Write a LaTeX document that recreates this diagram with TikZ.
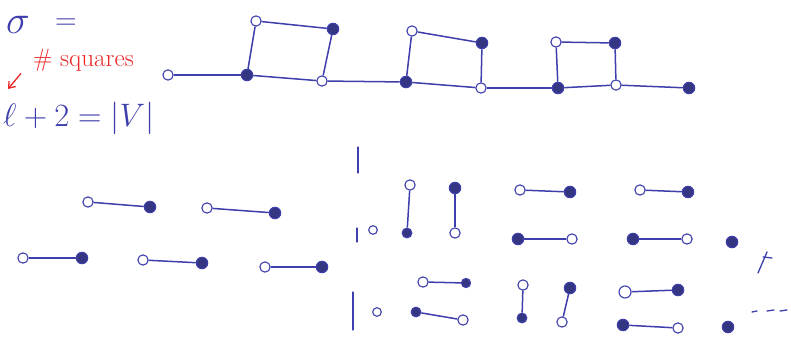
\documentclass[tikz,border=0pt]{standalone}
\usepackage{xcolor}
\usepackage{graphicx}
\usepackage{amsmath,amssymb}
\usepackage{tikz}
\usetikzlibrary{arrows.meta}
\definecolor{Ink}{RGB}{62,62,172}
\definecolor{DarkInk}{RGB}{52,54,130}
\definecolor{RedInk}{RGB}{236,38,38}

\begin{document}
\begin{tikzpicture}[
 x=0.35mm, y=-0.35mm,
 opendot/.style={draw=Ink, circle, line width=1.1pt, minimum size=3.6mm, inner sep=0pt, fill=white},
 fulldot/.style={draw=Ink, circle, line width=1.1pt, minimum size=4.0mm, inner sep=0pt, fill=DarkInk},
 link/.style={draw=Ink, line width=1.5pt},
 scribble/.style={draw=Ink, line width=1.3pt, line cap=round},
 hand/.style={text=Ink, inner sep=0pt, font=\Huge},
 redarrow/.style={-{Straight Barb[length=2mm,width=3mm]}, draw=RedInk, line width=1.3pt},
 font=\small
]
\useasboundingbox (0,0) rectangle (791,349);

% left side text
\node[hand] (sig) at (18,25) {\scalebox{1.6}{$\sigma$}};
\node[hand] (eq) at (66,24) {\scalebox{1.2}{$=$}};
\node[hand, text=RedInk, font=\fontsize{25}{28}\selectfont, anchor=west] (sq) at (33,60) {\# squares};
\coordinate (ell) at (8,89);
\draw[redarrow] (sq.south west) ++(-12,2) coordinate (tail) -- (ell);
\node[hand, anchor=west] (size) at (3,118) {\scalebox{1.3}{$\ell+2 = |V|$}};

% the chain of squares
\node[opendot] (t1) at (168,75) {};
\node[fulldot] (t2) at (247,75) {};
\node[opendot] (t3) at (256,21) {};
\node[fulldot] (t4) at (333,29) {};
\node[opendot] (t5) at (322,81) {};
\node[fulldot] (t6) at (406,82) {};
\node[opendot] (t7) at (412,31) {};
\node[fulldot] (t8) at (482,43) {};
\node[opendot] (t9) at (481,88) {};
\node[fulldot] (t10) at (558,88) {};
\node[opendot] (t11) at (556,42) {};
\node[fulldot] (t12) at (615,43) {};
\node[opendot] (t13) at (616,85) {};
\node[fulldot] (t14) at (689,88) {};

\draw[link] (t1) -- (t2);
\draw[link] (t2) -- (t3);
\draw[link] (t3) -- (t4);
\draw[link] (t4) -- (t5);
\draw[link] (t2) -- (t5);
\draw[link] (t5) -- (t6);
\draw[link] (t6) -- (t7);
\draw[link] (t7) -- (t8);
\draw[link] (t8) -- (t9);
\draw[link] (t6) -- (t9);
\draw[link] (t9) -- (t10);
\draw[link] (t10) -- (t11);
\draw[link] (t11) -- (t12);
\draw[link] (t12) -- (t13);
\draw[link] (t10) -- (t13);
\draw[link] (t13) -- (t14);

% matchings, left
\node[opendot] (a1) at (88,202) {};
\node[fulldot] (b1) at (150,207) {};
\node[opendot] (a2) at (207,208) {};
\node[fulldot] (b2) at (275,213) {};
\node[opendot] (a3) at (23,258) {};
\node[fulldot] (b3) at (82,258) {};
\node[opendot] (a4) at (143,260) {};
\node[fulldot] (b4) at (202,263) {};
\node[opendot] (a5) at (265,267) {};
\node[fulldot] (b5) at (322,267) {};
\draw[link] (a1) -- (b1);
\draw[link] (a2) -- (b2);
\draw[link] (a3) -- (b3);
\draw[link] (a4) -- (b4);
\draw[link] (a5) -- (b5);

% divider
\draw[scribble] (358,147) -- (358,173);
\draw[scribble] (357,228) -- (357,242);
\draw[scribble] (353,292) -- (353,330);

% matchings, right, upper block
\node[opendot, minimum size=3mm] (u0) at (373,230) {};
\node[opendot] (u1) at (410,185) {};
\node[fulldot, minimum size=3.4mm] (v1) at (407,233) {};
\node[fulldot] (u2) at (455,188) {};
\node[opendot] (v2) at (455,233) {};
\node[opendot] (u3) at (520,190) {};
\node[fulldot] (v3) at (570,192) {};
\node[fulldot] (u4) at (518,239) {};
\node[opendot] (v4) at (572,239) {};
\node[opendot] (u5) at (640,190) {};
\node[fulldot] (v5) at (688,192) {};
\node[fulldot] (u6) at (633,239) {};
\node[opendot] (v6) at (687,239) {};
\node[fulldot] (u7) at (732,242) {};
\draw[link] (u1) -- (v1);
\draw[link] (u2) -- (v2);
\draw[link] (u3) -- (v3);
\draw[link] (u4) -- (v4);
\draw[link] (u5) -- (v5);
\draw[link] (u6) -- (v6);

% matchings, right, lower block
\node[opendot, minimum size=3mm] (w0) at (377,312) {};
\node[opendot] (w1) at (423,282) {};
\node[fulldot, minimum size=3.2mm] (x1) at (466,283) {};
\node[fulldot, minimum size=3.4mm] (w2) at (416,312) {};
\node[opendot] (x2) at (463,320) {};
\node[opendot] (w3) at (523,285) {};
\node[fulldot, minimum size=3.4mm] (x3) at (522,318) {};
\node[fulldot] (w4) at (570,288) {};
\node[opendot] (x4) at (562,322) {};
\node[opendot, minimum size=4.2mm] (w5) at (625,292) {};
\node[fulldot] (x5) at (678,290) {};
\node[fulldot] (w6) at (623,325) {};
\node[opendot] (x6) at (678,328) {};
\node[fulldot] (w7) at (728,327) {};
\draw[link] (w1) -- (x1);
\draw[link] (w2) -- (x2);
\draw[link] (w3) -- (x3);
\draw[link] (w4) -- (x4);
\draw[link] (w5) -- (x5);
\draw[link] (w6) -- (x6);

% stray marks
\draw[scribble] (758,273) -- (767,252);
\draw[scribble] (763,257) -- (772,258);
\draw[scribble] (752,312) -- (757,311);
\draw[scribble] (767,311) -- (774,310);
\draw[scribble] (780,311) -- (787,310);
\end{tikzpicture}
\end{document}
